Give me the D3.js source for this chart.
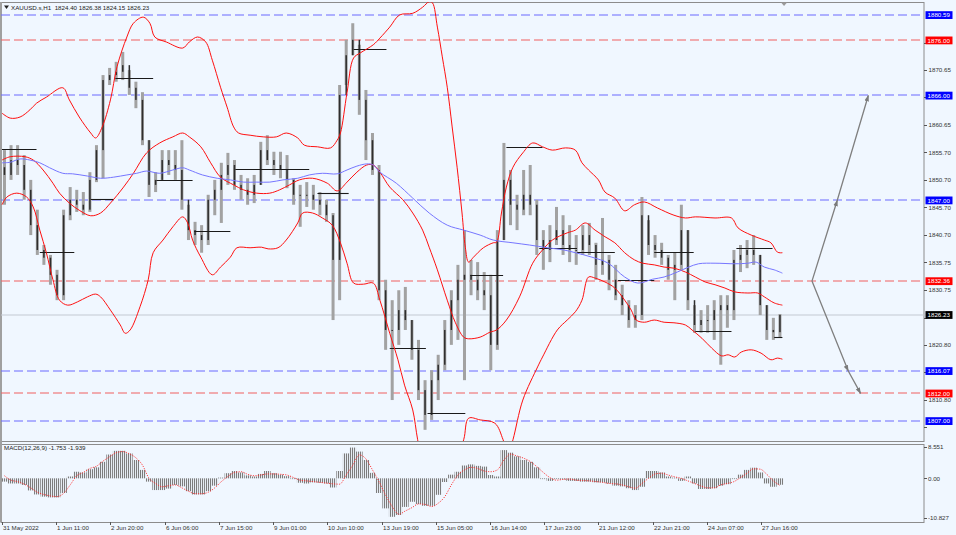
<!DOCTYPE html>
<html><head><meta charset="utf-8">
<script src="https://cdn.jsdelivr.net/npm/d3@7"></script>
<style>
html,body{margin:0;padding:0;background:#f0f7ff;overflow:hidden;}
svg{display:block;font-family:"Liberation Sans",Arial,sans-serif;}
</style></head><body>
<svg id="c" width="956" height="535"></svg>
<script>
// ---------------- DATA ----------------
const symbolTitle = "XAUUSD.s,H1  1824.40 1826.38 1824.15 1826.23";
const macdTitle = "MACD(12,26,9) -1.753 -1.939";
const dateLabels = ["31 May 2022","1 Jun 11:00","2 Jun 20:00","6 Jun 06:00","7 Jun 15:00","9 Jun 01:00","10 Jun 10:00","13 Jun 19:00","15 Jun 05:00","16 Jun 14:00","17 Jun 23:00","21 Jun 12:00","22 Jun 21:00","24 Jun 07:00","27 Jun 16:00"];
const dateLabelBars = [0,33,66,99,132,165,198,231,264,297,330,363,396,429,462];
const priceTicks = ["1875.60","1870.65","1865.65","1860.65","1855.70","1850.70","1845.70","1840.70","1835.75","1830.75","1825.75","1820.80","1815.80","1810.80","1805.85"];
const macdTicks = ["8.551","0.00","-10.827"];
const macdTickVals = [8.551, 0, -10.827];
const blueLevels = [1880.59,1866.00,1847.00,1816.07,1807.00];
const redLevels = [1876.00,1832.36,1812.00];
const lastPrice = 1826.23;

// candles, one entry per 4 hourly bars
const firstOpen = 1853.0;
const high = [1856.1,1857.0,1857.0,1855.2,1850.7,1845.3,1838.9,1837.1,1834.4,1845.3,
 1849.4,1848.9,1848.5,1852.1,1857.0,1869.7,1871.0,1872.1,1873.9,1870.6,
 1868.5,1866.6,1857.9,1852.1,1856.1,1856.1,1856.1,1857.9,1846.2,1843.1,
 1842.5,1848.0,1850.7,1853.8,1855.6,1854.3,1851.6,1851.0,1851.6,1857.6,
 1858.8,1855.8,1855.8,1855.2,1851.0,1849.8,1850.3,1849.8,1848.5,1847.1,
 1844.7,1867.9,1876.1,1879.1,1875.2,1867.0,1859.2,1853.4,1832.6,1828.9,
 1830.7,1831.3,1825.3,1821.7,1814.4,1816.2,1819.0,1825.3,1830.7,1835.3,
 1841.6,1836.2,1835.8,1834.0,1833.5,1841.6,1857.4,1852.5,1848.0,1852.5,
 1853.4,1847.1,1841.6,1842.5,1845.8,1844.3,1842.5,1840.7,1842.5,1842.9,
 1839.3,1843.8,1837.1,1835.3,1831.7,1828.9,1828.0,1847.6,1843.4,1840.7,
 1839.3,1837.1,1837.6,1846.2,1841.6,1828.0,1827.1,1828.0,1828.9,1829.8,
 1829.8,1838.0,1838.9,1839.8,1840.7,1837.1,1828.0,1825.7,1826.38];
const low = [1846.2,1850.7,1851.6,1847.1,1840.7,1837.1,1835.3,1831.7,1828.9,1828.9,
 1843.4,1844.9,1844.3,1844.9,1850.3,1851.0,1867.9,1868.5,1868.8,1866.1,
 1863.7,1857.0,1847.6,1848.5,1850.7,1851.6,1850.7,1845.3,1839.8,1838.9,
 1837.5,1838.9,1844.3,1842.9,1849.8,1848.9,1847.1,1846.2,1846.5,1849.8,
 1853.4,1851.6,1851.0,1849.2,1846.2,1842.2,1845.8,1845.3,1844.3,1843.1,
 1825.3,1828.9,1867.9,1873.3,1862.5,1854.3,1851.6,1828.9,1819.9,1810.8,
 1820.8,1823.5,1818.1,1810.8,1805.4,1807.2,1810.8,1816.2,1820.8,1821.7,
 1814.4,1829.8,1828.9,1827.1,1816.2,1819.9,1839.8,1842.5,1841.6,1844.3,
 1844.3,1837.1,1834.4,1835.8,1838.9,1837.1,1835.8,1835.3,1837.1,1837.1,
 1832.6,1833.5,1830.7,1828.9,1826.2,1823.9,1823.9,1825.3,1837.1,1836.6,
 1835.3,1832.6,1828.9,1834.4,1827.1,1823.0,1823.0,1823.0,1821.7,1817.2,
 1823.9,1825.3,1834.0,1834.7,1835.3,1826.2,1821.7,1821.7,1822.2];
const close = [1851.6,1854.3,1853.4,1848.9,1842.5,1838.0,1836.6,1833.5,1829.8,1844.3,
 1847.1,1846.2,1845.3,1850.7,1856.1,1868.8,1869.7,1870.3,1871.5,1867.4,
 1865.2,1857.9,1849.8,1850.7,1854.3,1853.4,1852.5,1847.1,1841.6,1840.7,
 1839.8,1847.1,1848.9,1851.6,1853.4,1849.8,1848.9,1848.0,1849.8,1856.1,
 1854.3,1853.4,1852.5,1850.7,1848.0,1848.0,1848.0,1847.1,1846.2,1844.3,
 1836.2,1866.1,1873.3,1876.1,1865.2,1857.9,1852.5,1830.7,1823.5,1823.5,
 1827.1,1825.3,1819.9,1812.6,1808.1,1814.4,1817.2,1823.5,1828.9,1832.6,
 1833.5,1832.6,1830.7,1829.8,1820.8,1839.8,1850.7,1846.2,1845.3,1848.0,
 1846.2,1839.8,1838.0,1839.8,1841.6,1838.9,1838.0,1838.0,1840.7,1838.9,
 1835.3,1836.2,1832.6,1829.8,1828.0,1825.3,1826.2,1844.3,1838.9,1838.0,
 1836.6,1834.4,1835.3,1841.6,1828.9,1824.4,1825.3,1825.3,1827.1,1828.0,
 1827.1,1836.2,1837.1,1838.0,1837.1,1828.0,1823.5,1823.1,1826.23];

// Bollinger bands & moving average: [bar, price]
const bbUpper = [[0,1862.8],[5,1861.9],[11,1862.1],[17,1863.4],[21,1864.6],[27,1865.7],[37,1867.4],[41,1865.2],[47,1862.1],[54,1859.2],[57,1858.3],[61,1860.3],[66,1865.2],[70,1871.2],[76,1876.6],[80,1879.1],[86,1880.2],[90,1879.1],[93,1876.6],[100,1875.7],[110,1874.6],[114,1875.7],[119,1876.6],[124,1875.7],[128,1872.4],[133,1867.5],[137,1863.9],[141,1860.3],[144,1859.2],[151,1858.8],[159,1858.5],[167,1858.5],[173,1859.2],[180,1858.3],[184,1857.0],[192,1856.7],[200,1856.5],[204,1857.9],[206,1859.2],[210,1866.5],[214,1872.8],[218,1873.7],[226,1875.2],[230,1876.4],[236,1878.4],[242,1880.6],[250,1880.9],[256,1882.0],[260,1883.0],[262,1882.8],[265,1878.4],[268,1873.0],[271,1867.5],[274,1860.3],[277,1853.0],[280,1844.7],[282,1838.5],[284,1835.8],[287,1836.7],[293,1838.4],[299,1839.3],[301,1839.4],[304,1844.7],[307,1849.4],[311,1853.0],[317,1855.6],[323,1857.4],[329,1856.7],[335,1856.1],[343,1856.5],[349,1856.1],[353,1853.8],[357,1852.5],[363,1850.7],[367,1848.5],[373,1847.4],[379,1845.1],[385,1846.2],[391,1846.7],[399,1845.6],[409,1844.3],[416,1843.8],[422,1844.0],[434,1843.8],[444,1843.8],[448,1842.0],[456,1840.7],[464,1839.8],[468,1839.3],[472,1837.6],[475,1837.5]];
const bbMiddle = [[0,1854.3],[5,1854.9],[14,1854.9],[19,1854.3],[25,1852.5],[31,1850.1],[35,1848.3],[41,1846.5],[47,1845.2],[54,1844.2],[60,1844.7],[66,1846.5],[74,1849.4],[80,1851.9],[88,1855.6],[96,1857.4],[104,1858.5],[110,1859.2],[114,1858.5],[121,1856.7],[127,1853.8],[133,1851.2],[141,1849.8],[147,1848.9],[155,1848.3],[163,1848.3],[169,1848.9],[175,1849.8],[181,1850.7],[189,1851.0],[198,1850.1],[204,1848.7],[210,1850.3],[216,1852.1],[222,1853.4],[226,1853.4],[230,1852.1],[236,1849.4],[244,1847.1],[250,1844.7],[256,1841.6],[260,1838.5],[265,1834.4],[271,1828.9],[276,1824.8],[281,1822.2],[284,1821.9],[291,1822.2],[297,1823.1],[301,1823.5],[307,1825.3],[315,1829.5],[323,1835.6],[329,1838.0],[335,1839.8],[344,1841.1],[349,1841.6],[355,1842.9],[361,1841.6],[367,1840.4],[373,1839.3],[379,1837.5],[385,1836.2],[390,1835.6],[397,1835.3],[403,1834.9],[409,1834.7],[416,1834.0],[422,1833.1],[428,1832.2],[434,1831.7],[440,1831.1],[446,1830.4],[454,1830.2],[460,1830.2],[464,1829.5],[470,1828.4],[475,1828.0]];
const bbLower = [[0,1846.2],[3,1847.6],[9,1848.3],[15,1847.6],[19,1845.8],[23,1841.6],[27,1837.5],[31,1832.6],[35,1828.9],[40,1828.0],[46,1828.6],[52,1829.5],[57,1830.0],[60,1829.5],[66,1827.1],[72,1824.4],[75,1822.9],[78,1823.5],[84,1827.7],[89,1832.6],[92,1837.5],[98,1839.8],[104,1842.2],[110,1844.0],[113,1842.9],[116,1839.8],[121,1836.7],[128,1833.5],[133,1834.9],[139,1836.7],[143,1838.4],[151,1838.4],[158,1838.5],[162,1838.2],[168,1838.4],[173,1839.8],[180,1842.9],[183,1844.7],[189,1844.7],[195,1843.8],[201,1842.5],[206,1839.3],[210,1835.6],[214,1832.0],[220,1831.8],[226,1832.0],[230,1828.9],[236,1822.9],[241,1818.1],[245,1813.5],[250,1809.0],[253,1803.6],[257,1798.1],[265,1794.5],[274,1798.1],[281,1803.6],[284,1807.5],[291,1807.2],[300,1806.6],[305,1803.6],[308,1800.8],[311,1803.6],[317,1810.8],[326,1816.8],[329,1818.6],[338,1823.5],[344,1825.3],[349,1826.8],[353,1828.9],[357,1833.1],[361,1832.9],[367,1832.2],[373,1831.1],[379,1828.9],[383,1827.1],[386,1825.3],[391,1824.9],[397,1825.3],[403,1824.9],[409,1824.8],[416,1824.4],[420,1823.5],[426,1822.0],[432,1820.2],[438,1818.8],[442,1819.0],[446,1818.6],[450,1819.5],[456,1819.9],[462,1819.3],[468,1818.1],[472,1818.4],[475,1818.2]];
const maBlue = [[0,1853.8],[5,1853.9],[11,1854.5],[17,1854.3],[23,1853.8],[29,1852.9],[37,1851.9],[43,1851.8],[52,1851.4],[60,1851.0],[68,1851.2],[76,1851.6],[82,1851.9],[88,1852.3],[96,1851.9],[104,1852.5],[110,1852.9],[114,1852.5],[122,1851.6],[131,1851.0],[139,1850.7],[147,1850.3],[155,1850.3],[163,1850.3],[171,1850.7],[180,1851.0],[187,1851.6],[195,1851.9],[204,1851.8],[210,1852.5],[216,1853.2],[222,1853.6],[226,1853.4],[230,1852.1],[240,1850.1],[250,1847.4],[260,1844.7],[271,1842.5],[281,1841.6],[291,1840.7],[299,1839.8],[311,1839.3],[321,1838.9],[332,1838.4],[342,1838.0],[349,1837.5],[359,1836.7],[369,1835.6],[379,1833.1],[387,1832.0],[396,1832.7],[403,1833.1],[411,1834.0],[418,1834.9],[424,1835.5],[434,1835.6],[446,1835.5],[454,1835.6],[459,1835.8],[464,1834.9],[470,1834.4],[475,1833.8]];

// daily level segments: [startBar, endBar, price]
const daySegments = [[0,21,1856.3],[23,44,1837.6],[54,68,1847.2],[69,92,1869.2],[94,116,1850.7],[117,139,1841.4],[142,187,1852.7],[192,211,1848.3],[214,234,1874.4],[236,258,1820.2],[259,282,1808.4],[285,305,1833.5],[307,329,1856.7],[327,350,1838.3],[350,373,1837.6],[375,397,1832.6],[397,421,1837.6],[422,444,1823.3],[447,469,1838.3],[470,475,1822.2]];

// projected paths: [bar, price]
const projUp = [[493,1832.36],[508.4,1847.0],[527.3,1866.0]];
const projDown = [[493,1832.36],[515.1,1816.07],[522.6,1812.0]];

// MACD per candle entry
const macdHist = [-0.9,-1.4,-1.4,-1.8,-3.3,-4.4,-5.0,-5.2,-5.2,-4.0,
 0.5,1.8,1.6,2.5,3.0,4.5,6.5,7.5,7.5,6.8,
 5.0,2.3,-0.9,-3.2,-3.2,-2.8,-1.8,-2.2,-3.5,-4.4,
 -4.4,-3.5,-2.0,0.2,1.4,2.0,1.6,0.8,0.5,1.2,
 2.0,1.4,1.0,0.6,0.0,-1.2,-1.4,-1.1,-1.2,-1.4,
 -2.5,2.0,6.8,8.4,7.3,5.0,1.5,-4.0,-8.2,-10.5,
 -10.0,-7.8,-6.4,-7.0,-7.5,-7.5,-4.5,-1.0,1.0,1.8,
 3.5,3.8,3.4,3.2,0.9,0.5,7.7,7.0,6.0,5.0,
 4.5,3.0,-0.2,-0.7,-0.2,-0.3,-0.7,-0.7,-0.9,-0.9,
 -1.1,-1.1,-1.4,-2.0,-2.2,-2.7,-3.2,-2.3,2.0,2.0,
 1.6,0.5,0.2,-0.7,0.5,-1.4,-2.9,-2.9,-2.7,-2.0,
 -1.6,0.0,1.0,2.3,2.9,1.6,-1.4,-2.3,-1.753];
const macdSignal = [0.7,-0.5,-0.9,-1.6,-2.6,-3.8,-4.4,-4.8,-5.0,-4.1,
 -1.8,0.7,1.6,2.7,3.3,4.7,5.9,7.0,7.3,6.7,
 5.6,3.6,0.0,-1.4,-2.3,-2.0,-1.8,-2.6,-3.5,-4.2,
 -4.2,-3.8,-2.6,-0.9,0.5,1.6,1.8,1.1,0.7,0.9,
 1.2,1.2,1.1,0.9,0.2,-0.5,-0.7,-0.9,-1.1,-1.3,
 -1.5,-1.6,0.9,3.6,6.4,5.3,2.3,-0.9,-4.6,-7.7,
 -9.8,-8.9,-8.0,-7.0,-7.1,-7.7,-6.8,-5.0,-1.8,0.9,
 2.3,3.0,2.7,2.0,1.8,2.3,5.0,6.6,6.1,5.5,
 4.6,3.2,1.6,0.2,-0.5,-0.3,-0.2,-0.5,-0.6,-0.7,
 -0.9,-1.1,-1.4,-1.5,-1.8,-2.3,-2.7,-1.4,0.0,1.2,
 1.4,0.9,0.4,0.0,-0.7,-1.4,-2.1,-2.6,-2.6,-1.8,
 -1.4,-0.9,0.2,1.4,2.6,2.5,1.1,-0.7,-1.939];

// ---------------- LAYOUT ----------------
const BARS_PER_ENTRY = 4;
const plotL = 1, plotR = 924, mainT = 2, mainB = 441, macdT = 444, macdB = 522;
const svg = d3.select("#c");

const x = d3.scaleLinear().domain([0, 475]).range([2, 782.4]);
const y = d3.scaleLinear().domain([1807, 1880.59]).range([421, 15]);
const ym = d3.scaleLinear().domain([-10.827, 8.551]).range([518, 447]);
const crisp = v => Math.round(v) + 0.5;

const defs = svg.append("defs");
defs.append("clipPath").attr("id","clipMain").append("rect")
  .attr("x",plotL).attr("y",mainT).attr("width",plotR-plotL).attr("height",mainB-mainT);
defs.append("clipPath").attr("id","clipMacd").append("rect")
  .attr("x",plotL).attr("y",macdT).attr("width",plotR-plotL).attr("height",macdB-macdT);
const pat2 = defs.append("pattern").attr("id","mstripe").attr("patternUnits","userSpaceOnUse")
  .attr("width",2).attr("height",8);
pat2.append("rect").attr("width",1.1).attr("height",8).attr("fill","#7c7c7c");
defs.append("marker").attr("id","arr").attr("viewBox","0 0 10 10")
  .attr("refX",9).attr("refY",5).attr("markerWidth",5).attr("markerHeight",5)
  .attr("orient","auto").append("path").attr("d","M0,1.5 L10,5 L0,8.5 z").attr("fill","#7a7a7a");

// panel borders
svg.append("rect").attr("x",plotL).attr("y",mainT+0.5).attr("width",plotR-plotL).attr("height",mainB-mainT)
  .attr("fill","none").attr("stroke","#8c8c8c").attr("stroke-width",1);
svg.append("rect").attr("x",plotL).attr("y",macdT+0.5).attr("width",plotR-plotL).attr("height",macdB-macdT)
  .attr("fill","none").attr("stroke","#8c8c8c").attr("stroke-width",1);
svg.append("line").attr("x1",1).attr("x2",1).attr("y1",mainT).attr("y2",macdB).attr("stroke","#a0a0a0").attr("stroke-width",2);

const gm = svg.append("g").attr("clip-path","url(#clipMain)");

// level lines (drawn straddling two pixel rows so the colour stays soft)
const lvlY = v => Math.round(y(v));
gm.selectAll(".bl").data(blueLevels).join("line")
  .attr("x1",plotL).attr("x2",plotR).attr("y1",lvlY).attr("y2",lvlY)
  .attr("stroke","#6a6aff").attr("stroke-width",1.1).attr("stroke-dasharray","9,4");
gm.selectAll(".rl").data(redLevels).join("line")
  .attr("x1",plotL).attr("x2",plotR).attr("y1",lvlY).attr("y2",lvlY)
  .attr("stroke","#f06060").attr("stroke-width",1.1).attr("stroke-dasharray","9,4");
gm.append("line").attr("x1",plotL).attr("x2",plotR).attr("y1",lvlY(lastPrice)).attr("y2",lvlY(lastPrice))
  .attr("stroke","#c3c9d2").attr("stroke-width",1);

// candles
const candles = high.map((h,i)=>({i, h, l:low[i], c:close[i], o: i===0?firstOpen:close[i-1]}));
const step = x(BARS_PER_ENTRY) - x(0);
const cx = d => x(d.i*BARS_PER_ENTRY + 1.5);
gm.selectAll(".wick").data(candles).join("rect")
  .attr("x",d=>cx(d)-1.5).attr("width",3)
  .attr("y",d=>y(d.h)).attr("height",d=>Math.max(1,y(d.l)-y(d.h)))
  .attr("fill","#a2a2a2");
gm.selectAll(".body").data(candles).join("rect")
  .attr("x",d=>cx(d)-0.75).attr("width",1.5)
  .attr("y",d=>y(Math.max(d.o,d.c))).attr("height",d=>Math.max(1,Math.abs(y(d.o)-y(d.c))))
  .attr("fill","#2e2e2e");

// day segments
gm.selectAll(".seg").data(daySegments).join("line")
  .attr("x1",d=>x(d[0])).attr("x2",d=>x(d[1])).attr("y1",d=>crisp(y(d[2]))).attr("y2",d=>crisp(y(d[2])))
  .attr("stroke","#1a1a1a").attr("stroke-width",1.1);

// bands
const bandLine = d3.line().x(d=>x(d[0])).y(d=>y(d[1])).curve(d3.curveCatmullRom.alpha(0.5));
[bbUpper,bbMiddle,bbLower].forEach(b=>{
  gm.append("path").attr("d",bandLine(b)).attr("fill","none").attr("stroke","#ff1010").attr("stroke-width",1);
});
gm.append("path").attr("d",bandLine(maBlue)).attr("fill","none").attr("stroke","#7676ff").attr("stroke-width",1);

// projection arrows
const projLine = d3.line().x(d=>x(d[0])).y(d=>y(d[1]));
[projUp,projDown].forEach(p=>{
  gm.append("path").attr("d",projLine(p)).attr("fill","none").attr("stroke","#7f7f7f")
    .attr("stroke-width",1.3).attr("marker-mid","url(#arr)").attr("marker-end","url(#arr)");
});

// chart shift marker
svg.append("path").attr("d",`M${x(476)-3},${mainT+0.5} L${x(476)+3},${mainT+0.5} L${x(476)},${mainT+4} z`).attr("fill","#9a9a9a");

// title
svg.append("path").attr("d","M4,5.5 L9,5.5 L6.5,9 z").attr("fill","#222");
svg.append("text").attr("x",11).attr("y",9.5).attr("font-size",6.2).attr("fill","#222")
  .attr("xml:space","preserve").text(symbolTitle);

// right price axis (ticks hidden where a level box sits, as in the terminal)
const boxed = blueLevels.concat(redLevels, [lastPrice]).map(v=>y(v));
const ax = svg.append("g");
priceTicks.forEach(t=>{
  const yy = y(+t);
  ax.append("line").attr("x1",plotR).attr("x2",plotR+3).attr("y1",crisp(yy)).attr("y2",crisp(yy)).attr("stroke","#555");
  if (boxed.some(b=>Math.abs(b-yy)<6.5)) return;
  ax.append("text").attr("x",plotR+4.5).attr("y",yy+2.2).attr("font-size",6.2).attr("fill","#333").text(t);
});
const box = (v, bg) => {
  const yy = y(v);
  ax.append("rect").attr("x",plotR+1.5).attr("y",yy-3.8).attr("width",27).attr("height",7.8).attr("fill",bg);
  ax.append("text").attr("x",plotR+3.5).attr("y",yy+2.2).attr("font-size",6.2).attr("fill","#fff").text(v.toFixed(2));
};
blueLevels.forEach(v=>box(v,"#0000ff"));
redLevels.forEach(v=>box(v,"#ff0000"));
box(lastPrice,"#000000");

// MACD panel
const gmc = svg.append("g").attr("clip-path","url(#clipMacd)");
gmc.selectAll(".mh").data(macdHist).join("rect")
  .attr("x",(d,i)=>x(i*BARS_PER_ENTRY+1.5)-step/2).attr("width",step)
  .attr("y",d=>Math.min(ym(0),ym(d))).attr("height",d=>Math.max(0.8,Math.abs(ym(d)-ym(0))))
  .attr("fill","url(#mstripe)");
const sigLine = d3.line().x((d,i)=>x(i*BARS_PER_ENTRY+1.5)).y(d=>ym(d)).curve(d3.curveMonotoneX);
gmc.append("path").attr("d",sigLine(macdSignal)).attr("fill","none").attr("stroke","#ff2a2a")
  .attr("stroke-width",0.9).attr("stroke-dasharray","1.2,1.3");
svg.append("text").attr("x",4).attr("y",450).attr("font-size",6.2).attr("fill","#222").text(macdTitle);
macdTicks.forEach((t,i)=>{
  const yy = ym(macdTickVals[i]);
  ax.append("line").attr("x1",plotR).attr("x2",plotR+3).attr("y1",crisp(yy)).attr("y2",crisp(yy)).attr("stroke","#555");
  ax.append("text").attr("x",plotR+4).attr("y",yy+2.2).attr("font-size",6.2).attr("fill","#333").text(t);
});

// time axis
dateLabels.forEach((t,i)=>{
  const xx = crisp(x(dateLabelBars[i]));
  svg.append("line").attr("x1",xx).attr("x2",xx).attr("y1",macdB).attr("y2",macdB+3).attr("stroke","#555");
  svg.append("text").attr("x",xx+0.5).attr("y",529.5).attr("font-size",6.2).attr("fill","#333").text(t);
});
</script>
</body></html>
